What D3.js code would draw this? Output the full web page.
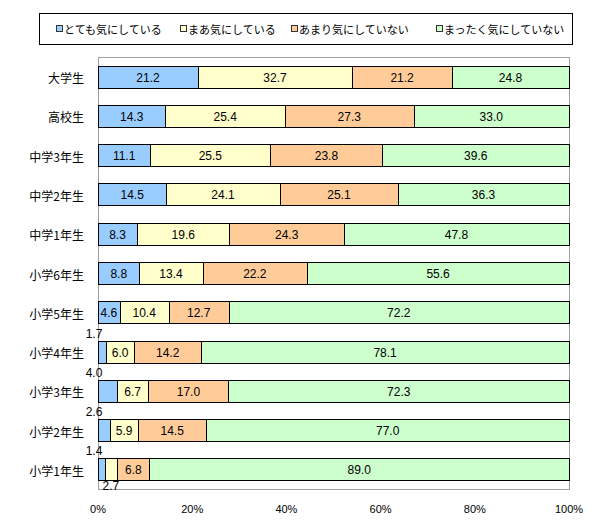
<!DOCTYPE html>
<html>
<head>
<meta charset="utf-8">
<script src="https://cdn.jsdelivr.net/npm/d3@7"></script>
<style>
  body { margin: 0; background: #fff; }
  #outer { width: 600px; height: 530px; }
</style>
</head>
<body>
<div id="outer"></div>
<script>
////////// Data //////////
const categories = ['大学生', '高校生', '中学3年生', '中学2年生', '中学1年生', '小学6年生',
  '小学5年生', '小学4年生', '小学3年生', '小学2年生', '小学1年生'];
const seriesNames = ['とても気にしている', 'まあ気にしている', 'あまり気にしていない', 'まったく気にしていない'];
const veryMuch = [21.2, 14.3, 11.1, 14.5, 8.3, 8.8, 4.6, 1.7, 4.0, 2.6, 1.4];
const somewhat = [32.7, 25.4, 25.5, 24.1, 19.6, 13.4, 10.4, 6.0, 6.7, 5.9, 2.7];
const notMuch = [21.2, 27.3, 23.8, 25.1, 24.3, 22.2, 12.7, 14.2, 17.0, 14.5, 6.8];
const notAtAll = [24.8, 33.0, 39.6, 36.3, 47.8, 55.6, 72.2, 78.1, 72.3, 77.0, 89.0];
const tickValues = [0, 0.2, 0.4, 0.6, 0.8, 1.0];

// labels that sit outside their segment (category, series index, side)
const movedLabels = [
  ['小学4年生', 0, 'above'],
  ['小学3年生', 0, 'above'],
  ['小学2年生', 0, 'above'],
  ['小学1年生', 0, 'above'],
  ['小学1年生', 1, 'below']
];

////////// Setup //////////
const width = 600, height = 530;
const colors = ['#99CCFF', '#FFFFCC', '#FFCC99', '#CCFFCC'];
const plot = { left: 98, right: 569, top: 57, bottom: 489 };
const jpFont = '"Noto Sans CJK JP", sans-serif';

const seriesValues = [veryMuch, somewhat, notMuch, notAtAll];
const table = categories.map((c, i) => {
  const row = { category: c };
  seriesNames.forEach((s, j) => row[s] = seriesValues[j][i]);
  return row;
});

const stacked = d3.stack()
  .keys(seriesNames)
  .offset(d3.stackOffsetExpand)(table);

const x = d3.scaleLinear().domain([0, 1]).range([plot.left, plot.right]);
const y = d3.scaleBand()
  .domain(categories)
  .range([plot.top, plot.bottom])
  .paddingInner(0.44)
  .paddingOuter(0.22);

const svg = d3.select('#outer').append('svg')
  .attr('width', width)
  .attr('height', height);

// plot area frame
svg.append('rect')
  .attr('x', plot.left + 0.5)
  .attr('y', plot.top + 0.5)
  .attr('width', plot.right - plot.left)
  .attr('height', plot.bottom - plot.top)
  .attr('fill', 'none')
  .attr('stroke', '#A0A0A0')
  .attr('stroke-width', 1);

// bars
const groups = svg.append('g').selectAll('g')
  .data(stacked)
  .join('g')
  .attr('fill', (d, i) => colors[i]);

groups.selectAll('rect')
  .data(d => d)
  .join('rect')
  .attr('x', d => Math.round(x(d[0])) + 0.5)
  .attr('y', d => Math.round(y(d.data.category)) + 0.5)
  .attr('width', d => Math.round(x(d[1])) - Math.round(x(d[0])))
  .attr('height', Math.round(y.bandwidth()))
  .attr('stroke', '#000')
  .attr('stroke-width', 1);

// value labels
const labelData = [];
stacked.forEach((s, si) => {
  s.forEach(d => {
    const moved = movedLabels.find(m => m[0] === d.data.category && m[1] === si);
    labelData.push({ d, si, side: moved ? moved[2] : 'inside', value: d.data[s.key] });
  });
});

svg.append('g').selectAll('text')
  .data(labelData)
  .join('text')
  .attr('x', l => l.side === 'above' ? x(0) - 4 : (x(l.d[0]) + x(l.d[1])) / 2)
  .attr('y', l => {
    const top = y(l.d.data.category);
    if (l.side === 'above') return top - 7;
    if (l.side === 'below') return top + y.bandwidth() + 6;
    return top + y.bandwidth() / 2 + 1;
  })
  .attr('text-anchor', 'middle')
  .attr('dominant-baseline', 'central')
  .style('font', '12px "Liberation Sans", Arial, sans-serif')
  .attr('fill', '#000')
  .text(l => l.value.toFixed(1));

// category labels
svg.append('g').selectAll('text')
  .data(categories)
  .join('text')
  .attr('x', 84)
  .attr('y', c => y(c) + y.bandwidth() / 2 + 1)
  .attr('text-anchor', 'end')
  .attr('dominant-baseline', 'central')
  .style('font-family', jpFont)
  .style('font-size', '12px')
  .text(c => c);

// x axis tick labels
svg.append('g').selectAll('text')
  .data(tickValues)
  .join('text')
  .attr('x', v => x(v))
  .attr('y', 509)
  .attr('text-anchor', 'middle')
  .attr('dominant-baseline', 'central')
  .style('font', '11px "Liberation Sans", Arial, sans-serif')
  .text(d3.format('.0%'));

// legend
const legend = svg.append('g');
legend.append('rect')
  .attr('x', 39.5).attr('y', 13.5)
  .attr('width', 533).attr('height', 31)
  .attr('fill', '#fff')
  .attr('stroke', '#000')
  .attr('stroke-width', 1);

const legendX = [56, 180, 291, 436];
const items = legend.selectAll('g.item')
  .data(seriesNames)
  .join('g')
  .attr('class', 'item')
  .attr('transform', (d, i) => `translate(${legendX[i]}, 29)`);

items.append('rect')
  .attr('x', 0.5).attr('y', -3.5)
  .attr('width', 6).attr('height', 6)
  .attr('fill', (d, i) => colors[i])
  .attr('stroke', '#333');

items.append('text')
  .attr('x', 8)
  .attr('y', 0)
  .attr('dominant-baseline', 'central')
  .style('font-family', jpFont)
  .style('font-size', '11px')
  .text(d => d);
</script>
</body>
</html>
